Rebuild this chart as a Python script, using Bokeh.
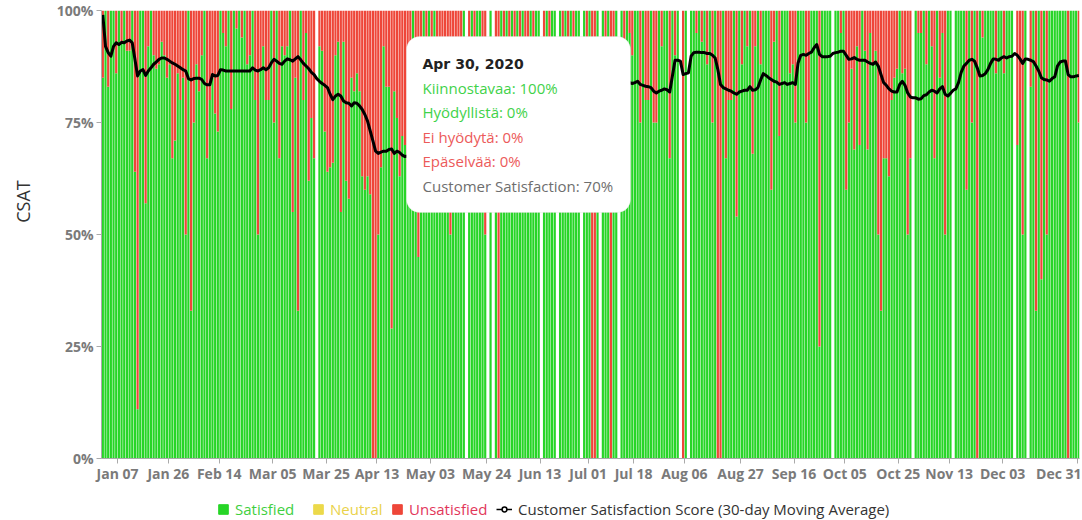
import datetime as dt
from math import pi

from bokeh.plotting import figure
from bokeh.layouts import row, column
from bokeh.models import (ColumnDataSource, Range1d, FixedTicker, DatetimeTickFormatter,
                          PrintfTickFormatter, Legend, LegendItem, BoxAnnotation, Label)
from bokeh.embed import file_html
from bokeh.resources import INLINE

# ---------------- data (2020, one value per day, % satisfied; None = no responses) -------------
sat_jan = [85, 100, 83, 100, 100, 86, 100, 93, 100, 91, 91, 100, 64, 11, 100, 100, 57, 92, 100, 90,
           87, 88, 93, 90, 85, 88, 67, 71, 86, 80, 85]
sat_feb = [50, 100, 33, 75, 88, 82, 90, 100, 67, 80, 85, 77, 73, 100, 95, 92, 100, 78, 100, 96,
           100, 94, 100, 88, 90, 100, 80, 50, 87]
sat_mar = [92, 80, 80, 100, 75, 100, 67, 92, 90, 92, 100, 55, 85, 33, 100, 80, 95, 62, 76, 67,
           None, 92, 91, 73, 64, 65, 66, 90, 93, 55, 93]
sat_apr = [62, 58, 85, 82, 86, 82, 63, 60, 63, 59, 0, 0, 50, 65, 92, 83, 83, 29, 82, 76,
           63, 72, 70, 65, 80, 100, 75, 45, 80, 100]
sat_may = [85, 100, 70, 100, 75, 80, 70, 85, 75, 50, 80, 70, 85, 75, 100, None, 80, 100, 85, 100,
           100, 80, 50, None, 100, None, 85, 0, 100, 80, 100]
sat_jun = [85, 100, 80, 100, 85, 100, 80, 80, 100, 85, 100, 100, None, 85, 100, 90, 100, 100, None, 100,
           85, 100, 80, 100, 85, 100, 100, None, 100, 85]
sat_jul = [100, 0, 0, 100, None, 100, 85, 100, 0, 85, 100, None, 100, 85, 100, 95, 90, 100, 100, 75,
           100, 80, 80, 100, 75, 75, 100, 92, 100, 100, 67]
sat_aug = [100, 90, 100, None, 0, 100, None, 100, 100, 95, 100, 93, 100, 88, 100, 75, 100, 0, 0, 100,
           67, 80, 80, 100, 54, 100, 88, 100, 92, 100, 68]
sat_sep = [92, 100, 88, 100, 100, 100, 60, 93, 100, 72, 100, 100, 100, 86, 88, 75, 100, 100, 100, 75,
           80, 100, 100, 100, 25, 100, 100, 100, 100, None]
sat_oct = [100, 100, 95, 100, 60, 75, 87, 69, 92, 70, 100, 91, 69, 95, 88, 91, 50, 33, 67, 67,
           63, 80, 85, 87, 100, 86, 87, 50, 67, None, 100]
sat_nov = [95, 95, 100, 88, 100, 92, 67, 100, 85, 95, 50, 100, 100, None, 100, 100, 100, 100, 60, 100,
           75, 100, 0, 100, 94, 100, 100, 100, 100, 86]
sat_dec = [100, 100, 86, 100, 100, 100, None, 70, 80, 50, 100, None, 83, 100, 33, 100, 40, 100, 50, 100,
           100, 100, 100, 100, 100, 100, 0, 100, 100, 100, 75]
neutral_share = 0  # no neutral answers appear in the period

# 30-day moving average of Customer Satisfaction Score (%), None = not read (hidden under tooltip)
ma_jan = [99, 92, 90.6, 89.8, 92, 92.8, 92.4, 92.9, 92.8, 93.2, 93.4, 92.8, 89.1, 85.4, 86.5, 86.8,
          85.5, 86.5, 87.2, 88, 88.5, 89.1, 89.4, 89.4, 89.1, 88.7, 88.3, 88, 87.6, 87.2, 86.8]
ma_feb = [86.5, 84.8, 84.5, 84.8, 84.9, 84.9, 84.6, 83.7, 83.4, 83.4, 85.7, 85.4, 85.5, 86.8, 86.7,
          86.5, 86.5, 86.5, 86.5, 86.5, 86.5, 86.5, 86.5, 86.5, 86.5, 87.2, 86.7, 86.5, 86.8]
ma_mar = [87.2, 86.8, 87.2, 88.3, 89.1, 88.7, 88.2, 88.0, 88.7, 89.2, 89.0, 88.7, 89.2, 89.7, 89.0,
          88.2, 87.6, 87.0, 86.2, 85.7, 84.8, 84.2, 83.7, 83.3, 82.8, 81.3, 80.1, 80.9, 81.3, 80.9, 79.8]
ma_apr = [79.4, 79.3, 78.7, 79.4, 79.3, 78.7, 77.9, 76.8, 75.3, 73.1, 70.9, 68.6, 68.1, 68.4, 68.6,
          68.6, 69.0, 69.1, 68.1, 68.6, 68.3, 67.7, 67.4, 67.5, None, None, None, None, None, 70]
ma_may = [None] * 9 + [73] + [None] * 9 + [76] + [None] * 10 + [79]
ma_jun = [None] * 8 + [80] + [None] * 9 + [81] + [None] * 10 + [83]
ma_jul = [None] * 8 + [84] + [None] * 5 + [83.9, 83.9, 83.7, 83.9, 84.2, 83.5, 83.3, 83.1, 83.0,
          82.8, 82.0, 81.6, 82.0, 82.2, 82.5, 82.3, 81.8]
ma_aug = [85.4, 88.9, 88.9, 88.7, 85.7, 85.9, 86.1, 89.8, 90.6, 90.7, 90.7, 90.6, 90.6, 90.4, 90.4,
          90.0, 89.4, 86.8, 83.5, 82.8, 82.5, 82.2, 82.0, 81.6, 81.3, 81.8, 82.0, 82.2, 82.2, 83.0, 82.2]
ma_sep = [82.3, 82.8, 84.5, 85.9, 85.5, 85.0, 84.6, 84.2, 84.0, 83.5, 83.7, 83.9, 83.5, 83.7, 83.9,
          83.5, 88.3, 90.0, 90.2, 90.0, 90.4, 90.7, 91.7, 92.4, 90.2, 89.7, 89.7, 89.7, 89.8, 90.4]
ma_oct = [90.6, 90.7, 90.9, 90.9, 90.0, 89.1, 89.2, 89.5, 89.1, 88.9, 88.9, 88.9, 88.5, 88.2, 88.0,
          88.5, 87.6, 85.7, 83.9, 83.3, 82.5, 82.0, 81.8, 81.8, 83.5, 84.2, 83.3, 81.6, 80.7, 80.5, 80.5]
ma_nov = [80.2, 80.3, 81.0, 81.2, 81.8, 82.2, 82.0, 81.6, 82.5, 83.0, 81.3, 80.9, 81.5, 82.2, 82.5,
          83.9, 86.2, 87.6, 88.2, 88.9, 89.1, 88.7, 87.2, 85.4, 85.5, 85.9, 86.8, 88.2, 89.2, 89.1]
ma_dec = [88.9, 89.4, 89.7, 89.4, 89.7, 89.8, 90.4, 90.0, 89.2, 88.2, 89.2, 89.1, 88.9, 88.6, 87.6,
          86.5, 85.0, 84.6, 84.5, 84.2, 84.8, 85.2, 87.6, 88.5, 88.7, 88.7, 85.7, 85.2, 85.2, 85.4, 85.5]

tick_dates = ["2020-01-07", "2020-01-26", "2020-02-14", "2020-03-05", "2020-03-25", "2020-04-13",
              "2020-05-03", "2020-05-24", "2020-06-13", "2020-07-01", "2020-07-18", "2020-08-06",
              "2020-08-27", "2020-09-16", "2020-10-05", "2020-10-25", "2020-11-13", "2020-12-03",
              "2020-12-31"]
y_ticks = [0, 25, 50, 75, 100]

series_names = ["Satisfied", "Neutral", "Unsatisfied"]
line_name = "Customer Satisfaction Score (30-day Moving Average)"
tooltip_title = "Apr 30, 2020"
tooltip_lines = ["Kiinnostavaa: 100%", "Hyödyllistä: 0%", "Ei hyödytä: 0%", "Epäselvää: 0%",
                 "Customer Satisfaction: 70%"]

# ---------------- build sources ----------------
start = dt.datetime(2020, 1, 1)
sat_all = sat_jan + sat_feb + sat_mar + sat_apr + sat_may + sat_jun + sat_jul + sat_aug + sat_sep + sat_oct + sat_nov + sat_dec
ma_all = ma_jan + ma_feb + ma_mar + ma_apr + ma_may + ma_jun + ma_jul + ma_aug + ma_sep + ma_oct + ma_nov + ma_dec

bx, bs, bn, bu = [], [], [], []
for i, s in enumerate(sat_all):
    if s is None:
        continue
    bx.append(start + dt.timedelta(days=i, hours=12))
    bs.append(s)
    bn.append(neutral_share)
    bu.append(100 - s - neutral_share)
bar_src = ColumnDataSource(dict(date=bx, Satisfied=bs, Neutral=bn, Unsatisfied=bu))

mx, my = [], []
for i, m in enumerate(ma_all):
    if m is None:
        continue
    mx.append(start + dt.timedelta(days=i, hours=12))
    my.append(m)
ma_src = ColumnDataSource(dict(date=mx, csat=my))

epoch = dt.datetime(1970, 1, 1)
tick_ms = [(dt.datetime.strptime(t, "%Y-%m-%d") - epoch).total_seconds() * 1000 for t in tick_dates]

FONT = "Open Sans"
GREEN, YELLOW, RED = "#27d527", "#ecd94a", "#ee4639"

# ---------------- main chart ----------------
LEFT_W = 50
MAIN_H = 488
p = figure(width=1031, height=MAIN_H, x_axis_type="datetime", title=None,
           x_range=Range1d(start, start + dt.timedelta(days=365.75)),
           y_range=Range1d(0, 100),
           output_backend="svg", toolbar_location=None,
           min_border_left=51, min_border_right=2, min_border_top=10, min_border_bottom=30)
p.outline_line_color = None
p.xgrid.visible = False
p.ygrid.visible = False

p.vbar_stack(series_names, x="date", width=0.82 * 86400000, source=bar_src,
             color=[GREEN, YELLOW, RED], line_color=None)
p.line(x="date", y="csat", source=ma_src, line_color="black", line_width=3, line_join="round")

p.yaxis.ticker = FixedTicker(ticks=y_ticks)
p.yaxis.formatter = PrintfTickFormatter(format="%d%%")
p.xaxis.ticker = FixedTicker(ticks=tick_ms)
fmt = "%b %d"
p.xaxis.formatter = DatetimeTickFormatter(milliseconds=fmt, seconds=fmt, minsec=fmt, minutes=fmt,
                                          hourmin=fmt, hours=fmt, days=fmt, months=fmt, years=fmt)
for ax in (p.xaxis[0], p.yaxis[0]):
    ax.axis_line_color = "#aaaaaa"
    ax.major_tick_line_color = "#aaaaaa"
    ax.minor_tick_line_color = None
    ax.major_tick_in = 0
    ax.major_tick_out = 5
    ax.major_label_text_font = FONT
    ax.major_label_text_font_style = "bold"
    ax.major_label_text_font_size = "14px"
    ax.major_label_text_color = "#7a7a7a"
p.yaxis.major_label_standoff = 3
p.xaxis.major_label_standoff = 0

# tooltip box shown in the reference
p.add_layout(BoxAnnotation(left=305, right=529, bottom=246, top=422,
                           left_units="screen", right_units="screen",
                           bottom_units="screen", top_units="screen",
                           fill_color="white", fill_alpha=1, line_color="#dcdcdc",
                           line_width=1, border_radius=13))
p.add_layout(Label(x=321, y=395, x_units="screen", y_units="screen", text=tooltip_title,
                   text_font="DejaVu Sans", text_font_style="bold", text_font_size="14px",
                   text_color="#222222", text_baseline="middle"))
line_colors = ["#3fd24a", "#3fd24a", "#ec5a5a", "#ec5a5a", "#6e6e6e"]
for k, (txt, col) in enumerate(zip(tooltip_lines, line_colors)):
    p.add_layout(Label(x=321, y=370.5 - 24.4 * k, x_units="screen", y_units="screen", text=txt,
                       text_font=FONT, text_font_size="15px", text_color=col,
                       text_baseline="middle"))

# ---------------- y-axis title panel ----------------
left = figure(width=LEFT_W, height=MAIN_H, x_range=(0, 1), y_range=(0, 1), title=None,
              x_axis_location=None, y_axis_location=None, output_backend="svg",
              toolbar_location=None, min_border=0)
left.outline_line_color = None
left.grid.visible = False
left.add_layout(Label(x=22, y=257, x_units="screen", y_units="screen", text="CSAT", angle=pi / 2,
                      text_align="center", text_baseline="middle", text_font=FONT,
                      text_font_size="18px", text_color="#333333"))

# ---------------- legend panel ----------------
leg = figure(width=LEFT_W + 1031, height=31, x_range=(0, 1), y_range=(0, 1), title=None,
             x_axis_location=None, y_axis_location=None, output_backend="svg",
             toolbar_location=None, min_border=0)
leg.outline_line_color = None
leg.grid.visible = False
# proxy renderers (placed outside the visible range) that only feed the legend swatches
r_sat = leg.vbar(x=[10], top=[1], width=1, color=GREEN)
r_neu = leg.vbar(x=[10], top=[1], width=1, color=YELLOW)
r_uns = leg.vbar(x=[10], top=[1], width=1, color=RED)
r_ln = leg.line(x=[10, 11], y=[10, 10], line_color="black", line_width=1.5)
r_mk = leg.scatter(x=[10], y=[10], marker="circle", size=6, fill_color="white", line_color="black", line_width=1.5)

def add_legend(label, renderers, x, color, gw=12):
    lg = Legend(items=[LegendItem(label=label, renderers=renderers)], location=(x, 0),
                orientation="horizontal", padding=0, margin=0, spacing=0,
                glyph_width=gw, glyph_height=12, label_height=15, label_standoff=6,
                label_text_font=FONT, label_text_font_size="15px", label_text_color=color,
                background_fill_alpha=0, border_line_alpha=0)
    leg.add_layout(lg)

add_legend(series_names[0], [r_sat], 217, "#3fcf3f")
add_legend(series_names[1], [r_neu], 312, "#e9d24a")
add_legend(series_names[2], [r_uns], 391, "#e2365a")
add_legend(line_name, [r_ln, r_mk], 496, "#333333", gw=16)

layout = column(row(left, p), leg)
open("out.html", "w").write(file_html(layout, INLINE))
